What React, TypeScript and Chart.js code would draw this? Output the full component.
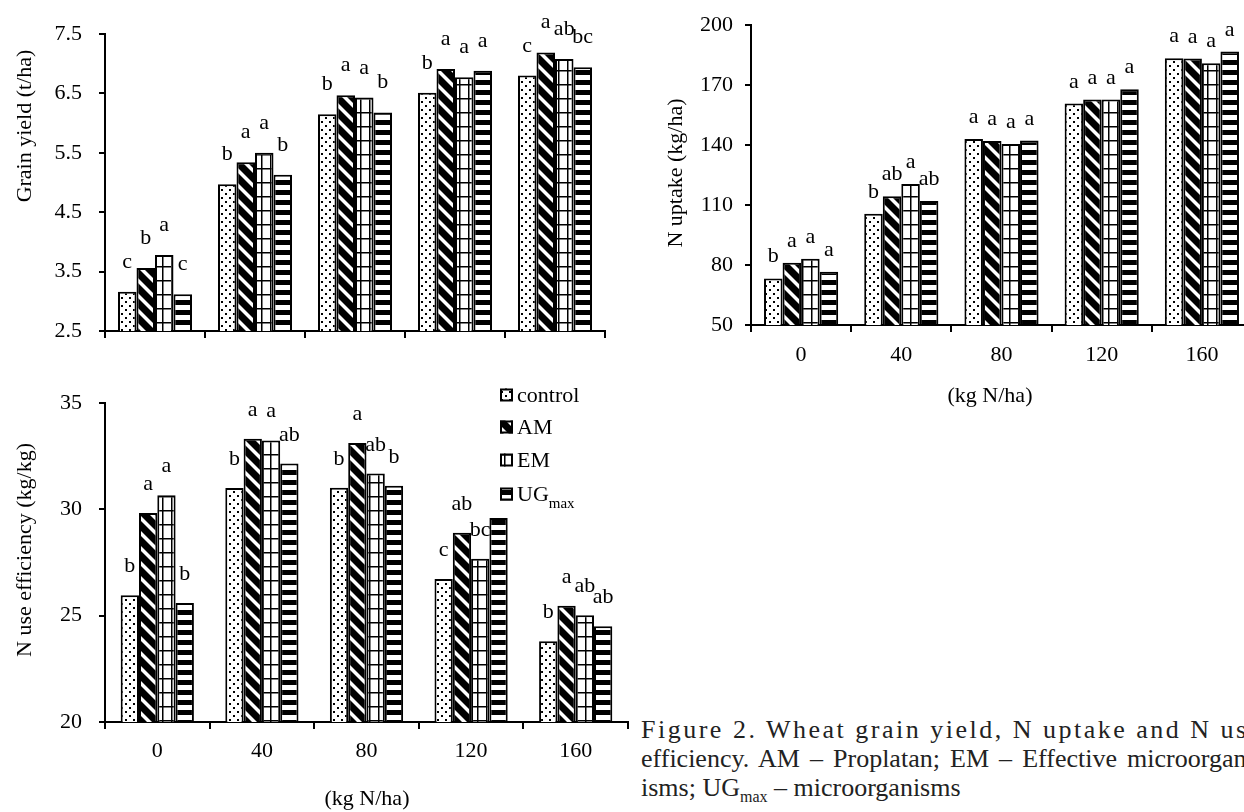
import React, { useEffect, useRef } from 'react';
import { Chart, registerables } from 'chart.js';

Chart.register(...registerables);

// ---------------- data ----------------
const categories = ['0', '40', '80', '120', '160'];
const seriesNames = ['control', 'AM', 'EM', 'UG'];

// Grain yield (t/ha)
const yieldControl = [3.16, 4.97, 6.15, 6.51, 6.8];
const yieldAM = [3.56, 5.34, 6.47, 6.91, 7.19];
const yieldEM = [3.78, 5.5, 6.43, 6.77, 7.08];
const yieldUG = [3.12, 5.13, 6.18, 6.88, 6.94];
const yieldLettersControl = ['c', 'b', 'b', 'b', 'c'];
const yieldLettersAM = ['b', 'a', 'a', 'a', 'a'];
const yieldLettersEM = ['a', 'a', 'a', 'a', 'ab'];
const yieldLettersUG = ['c', 'b', 'b', 'a', 'bc'];
const yieldTicks = [2.5, 3.5, 4.5, 5.5, 6.5, 7.5];

// N uptake (kg/ha)
const uptakeControl = [73.3, 105.7, 143.0, 160.8, 183.5];
const uptakeAM = [81.2, 114.4, 142.0, 162.8, 183.3];
const uptakeEM = [83.2, 120.6, 140.5, 162.8, 181.0];
const uptakeUG = [76.6, 112.1, 142.3, 168.0, 186.8];
const uptakeLettersControl = ['b', 'b', 'a', 'a', 'a'];
const uptakeLettersAM = ['a', 'ab', 'a', 'a', 'a'];
const uptakeLettersEM = ['a', 'a', 'a', 'a', 'a'];
const uptakeLettersUG = ['a', 'ab', 'a', 'a', 'a'];
const uptakeTicks = [50, 80, 110, 140, 170, 200];

// N use efficiency (kg/kg)
const nueControl = [25.96, 31.0, 31.02, 26.72, 23.8];
const nueAM = [29.83, 33.32, 33.12, 28.9, 25.47];
const nueEM = [30.66, 33.24, 31.68, 27.68, 25.02];
const nueUG = [25.6, 32.15, 31.11, 29.59, 24.5];
const nueLettersControl = ['b', 'b', 'b', 'c', 'b'];
const nueLettersAM = ['a', 'a', 'a', 'ab', 'a'];
const nueLettersEM = ['a', 'a', 'ab', 'bc', 'ab'];
const nueLettersUG = ['b', 'ab', 'b', '', 'ab'];
const nueTicks = [20, 25, 30, 35];

const FONT = "'Liberation Serif', 'Times New Roman', serif";

type PatternKind = 'dots' | 'diag' | 'grid' | 'hstripe';
const patternKinds: PatternKind[] = ['dots', 'diag', 'grid', 'hstripe'];

function makePattern(ctx: CanvasRenderingContext2D, kind: PatternKind): CanvasPattern {
  const c = document.createElement('canvas');
  const g = c.getContext('2d') as CanvasRenderingContext2D;
  if (kind === 'dots') {
    c.width = 8; c.height = 8;
    g.fillStyle = '#fff'; g.fillRect(0, 0, 8, 8);
    g.fillStyle = '#000';
    g.fillRect(1, 1, 2, 2);
    g.fillRect(5, 5, 2, 2);
  } else if (kind === 'diag') {
    const s = 15, w = 5;
    c.width = s; c.height = s;
    g.fillStyle = '#fff'; g.fillRect(0, 0, s, s);
    g.fillStyle = '#000';
    g.beginPath();
    g.moveTo(0, 0); g.lineTo(w, 0); g.lineTo(s, s - w); g.lineTo(s, s); g.lineTo(s - w, s); g.lineTo(0, w);
    g.closePath(); g.fill();
    g.beginPath(); g.moveTo(s - w, 0); g.lineTo(s, 0); g.lineTo(s, w); g.closePath(); g.fill();
    g.beginPath(); g.moveTo(0, s - w); g.lineTo(0, s); g.lineTo(w, s); g.closePath(); g.fill();
  } else if (kind === 'grid') {
    c.width = 9; c.height = 14;
    g.fillStyle = '#fff'; g.fillRect(0, 0, 9, 14);
    g.fillStyle = '#000';
    g.fillRect(0, 0, 9, 1.5);
    g.fillRect(0, 0, 1.5, 14);
  } else {
    c.width = 4; c.height = 10;
    g.fillStyle = '#fff'; g.fillRect(0, 0, 4, 10);
    g.fillStyle = '#000';
    g.fillRect(0, 0, 4, 5);
  }
  return ctx.createPattern(c, 'repeat') as CanvasPattern;
}

interface TextItem { text: string; x: number; y: number; rotate?: boolean; size?: number }

interface ChartSpec {
  left: number; top: number; width: number; height: number;
  area: { left: number; top: number; right: number; bottom: number };
  values: number[][];
  letters: string[][];
  letterOffset: number;
  ticks: number[];
  decimals: number;
  catPct: number;
  showXLabels: boolean;
  xLabelPadding: number;
  yLabelPadding: number;
  texts: TextItem[];
  legend?: { x: number; ys: number[] };
}

function ChartBox({ spec }: { spec: ChartSpec }) {
  const ref = useRef<HTMLCanvasElement | null>(null);
  useEffect(() => {
    const canvas = ref.current;
    if (!canvas) return;
    const ctx = canvas.getContext('2d') as CanvasRenderingContext2D;
    const patterns = patternKinds.map((k) => makePattern(ctx, k));

    const lettersPlugin = {
      id: 'letters',
      afterDatasetsDraw(chart: any) {
        const c = chart.ctx;
        c.save();
        c.font = `22px ${FONT}`;
        c.fillStyle = '#000';
        c.textAlign = 'center';
        c.textBaseline = 'alphabetic';
        chart.data.datasets.forEach((_: any, i: number) => {
          const meta = chart.getDatasetMeta(i);
          meta.data.forEach((el: any, j: number) => {
            const t = spec.letters[i][j];
            if (!t) return;
            c.fillText(t, el.x, el.y - spec.letterOffset);
          });
        });
        c.restore();
      },
    };

    const textsPlugin = {
      id: 'texts',
      afterDraw(chart: any) {
        const c = chart.ctx;
        c.save();
        c.fillStyle = '#000';
        c.textAlign = 'center';
        c.textBaseline = 'middle';
        spec.texts.forEach((t) => {
          c.font = `${t.size || 22}px ${FONT}`;
          c.save();
          c.translate(t.x, t.y);
          if (t.rotate) c.rotate(-Math.PI / 2);
          c.fillText(t.text, 0, 0);
          c.restore();
        });
        if (spec.legend) {
          const lg = spec.legend;
          seriesNames.forEach((name, i) => {
            const y = lg.ys[i];
            const sz = 13;
            c.fillStyle = patterns[i];
            c.fillRect(lg.x, y - sz / 2, sz, sz);
            c.strokeStyle = '#000';
            c.lineWidth = 2;
            c.strokeRect(lg.x + 1, y - sz / 2 + 1, sz - 2, sz - 2);
            c.fillStyle = '#000';
            c.textAlign = 'left';
            c.textBaseline = 'alphabetic';
            c.font = `22px ${FONT}`;
            const tx = lg.x + sz + 4;
            const base = y + 7;
            c.fillText(name, tx, base);
            if (name === 'UG') {
              const w = c.measureText(name).width;
              c.font = `15px ${FONT}`;
              c.fillText('max', tx + w, base + 7);
            }
          });
        }
        c.restore();
      },
    };

    const { area, width, height } = spec;
    const chart = new Chart(canvas, {
      type: 'bar',
      data: {
        labels: categories,
        datasets: spec.values.map((vals, i) => ({
          label: seriesNames[i],
          data: vals,
          backgroundColor: patterns[i] as any,
          borderColor: '#000',
          borderWidth: 2,
          borderSkipped: false,
          categoryPercentage: spec.catPct,
          barPercentage: 1,
        })),
      },
      options: {
        responsive: false,
        maintainAspectRatio: false,
        animation: false,
        devicePixelRatio: 1,
        layout: { padding: { left: 0, top: area.top, right: width - area.right, bottom: 0 } },
        plugins: { legend: { display: false }, tooltip: { enabled: false }, title: { display: false } },
        scales: {
          x: {
            grid: { display: true, drawOnChartArea: false, drawTicks: true, tickLength: 7, color: '#000', lineWidth: 2, offset: true },
            border: { display: true, color: '#000', width: 2 },
            ticks: {
              display: spec.showXLabels,
              font: { family: FONT, size: 22 },
              color: '#000',
              padding: spec.xLabelPadding,
              maxRotation: 0,
              autoSkip: false,
            },
            afterFit: (s: any) => { s.height = height - area.bottom; },
          } as any,
          y: {
            min: spec.ticks[0],
            max: spec.ticks[spec.ticks.length - 1],
            afterBuildTicks: (s: any) => { s.ticks = spec.ticks.map((v) => ({ value: v })); },
            grid: { drawOnChartArea: false, drawTicks: true, tickLength: 6, color: '#000', lineWidth: 2 },
            border: { display: true, color: '#000', width: 2 },
            ticks: {
              font: { family: FONT, size: 22 },
              color: '#000',
              padding: spec.yLabelPadding,
              callback: (v: any) => Number(v).toFixed(spec.decimals),
            },
            afterFit: (s: any) => { s.width = area.left; },
          } as any,
        },
      },
      plugins: [lettersPlugin, textsPlugin],
    });
    return () => chart.destroy();
  }, [spec]);
  return (
    <canvas
      ref={ref}
      width={spec.width}
      height={spec.height}
      style={{ position: 'absolute', left: spec.left, top: spec.top, width: spec.width, height: spec.height }}
    />
  );
}

const specA: ChartSpec = {
  left: 0, top: 0, width: 625, height: 370,
  area: { left: 105, top: 34, right: 605, bottom: 331 },
  values: [yieldControl, yieldAM, yieldEM, yieldUG],
  letters: [yieldLettersControl, yieldLettersAM, yieldLettersEM, yieldLettersUG],
  letterOffset: 24,
  ticks: yieldTicks,
  decimals: 1,
  catPct: 0.74,
  showXLabels: false,
  xLabelPadding: 11,
  yLabelPadding: 17,
  texts: [{ text: 'Grain yield (t/ha)', x: 25, y: 126, rotate: true }],
};

const specB: ChartSpec = {
  left: 640, top: 0, width: 620, height: 420,
  area: { left: 111, top: 24, right: 612, bottom: 325 },
  values: [uptakeControl, uptakeAM, uptakeEM, uptakeUG],
  letters: [uptakeLettersControl, uptakeLettersAM, uptakeLettersEM, uptakeLettersUG],
  letterOffset: 16,
  ticks: uptakeTicks,
  decimals: 0,
  catPct: 0.74,
  showXLabels: true,
  xLabelPadding: 10,
  yLabelPadding: 12,
  texts: [
    { text: 'N uptake (kg/ha)', x: 36, y: 173, rotate: true },
    { text: '(kg N/ha)', x: 350, y: 396 },
  ],
};

const specC: ChartSpec = {
  left: 0, top: 370, width: 640, height: 442,
  area: { left: 105, top: 33, right: 628, bottom: 352 },
  values: [nueControl, nueAM, nueEM, nueUG],
  letters: [nueLettersControl, nueLettersAM, nueLettersEM, nueLettersUG],
  letterOffset: 23,
  ticks: nueTicks,
  decimals: 0,
  catPct: 0.7,
  showXLabels: true,
  xLabelPadding: 9,
  yLabelPadding: 17,
  texts: [
    { text: 'N use efficiency (kg/kg)', x: 25, y: 180, rotate: true },
    { text: '(kg N/ha)', x: 367, y: 429 },
  ],
  legend: { x: 500, ys: [25, 57, 90, 124] },
};

export default function App() {
  return (
    <div style={{ position: 'fixed', left: 0, top: 0, width: 1244, height: 812, overflow: 'hidden', background: '#fff' }}>
      <ChartBox spec={specA} />
      <ChartBox spec={specB} />
      <ChartBox spec={specC} />
      <div
        style={{
          position: 'absolute', left: 641, top: 715, fontFamily: FONT, fontSize: 26, lineHeight: '29px',
          whiteSpace: 'nowrap', color: '#222',
        }}
      >
        <div style={{ letterSpacing: 2.5 }}>Figure 2. Wheat grain yield, N uptake and N use</div>
        <div style={{ wordSpacing: 3.6 }}>efficiency. AM – Proplatan; EM – Effective microorgan-</div>
        <div>
          isms; UG<span style={{ fontSize: 16, position: 'relative', top: 6 }}>max</span> – microorganisms
        </div>
      </div>
    </div>
  );
}
